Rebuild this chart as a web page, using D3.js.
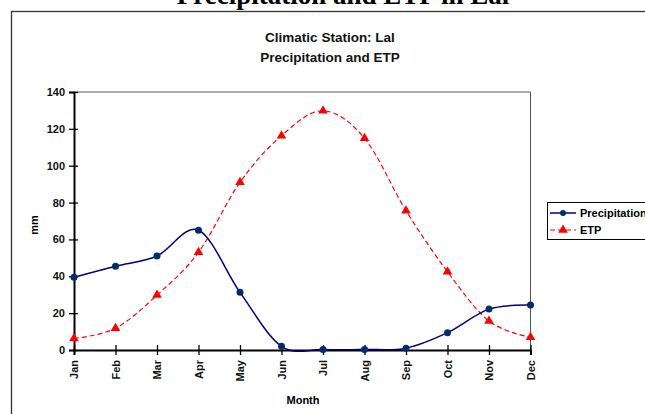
<!DOCTYPE html>
<html><head><meta charset="utf-8">
<script src="https://cdn.jsdelivr.net/npm/d3@7"></script>
<style>body{margin:0;background:#fff;}svg{display:block;}</style>
</head><body>
<script>
const months = ["Jan","Feb","Mar","Apr","May","Jun","Jul","Aug","Sep","Oct","Nov","Dec"];
const precipitation = [39.5, 45.5, 51, 65, 31.3, 2, 0.3, 0.3, 1, 9.4, 22.2, 24.4];
const etp = [6.3, 11.8, 29.8, 53, 91, 116.3, 129.8, 114.9, 75.6, 42.5, 15.7, 6.9];
const yTicks = [0, 20, 40, 60, 80, 100, 120, 140];
const seriesNames = ["Precipitation", "ETP"];

const W = 645, H = 414;
const svg = d3.select("body").append("svg").attr("width", W).attr("height", H);
const font = "Arial, 'Liberation Sans', sans-serif";

// outer title (cut at top)
svg.append("text").attr("x", 343).attr("y", 4).attr("text-anchor", "middle")
  .attr("font-family", "'Liberation Serif', 'Times New Roman', serif")
  .attr("font-weight", "bold").attr("font-size", 27).text("Precipitation and ETP in Lal");

// chart frame
svg.append("rect").attr("x", 11.5).attr("y", 11.5).attr("width", 645).attr("height", 420)
  .attr("fill", "none").attr("stroke", "#333").attr("stroke-width", 1.3);

// chart title
const title = svg.append("text").attr("text-anchor", "middle").attr("font-family", font)
  .attr("font-weight", "bold").attr("font-size", 13.5).attr("fill", "#111");
title.append("tspan").attr("x", 330).attr("y", 42).text("Climatic Station: Lal");
title.append("tspan").attr("x", 330).attr("y", 62).text("Precipitation and ETP");

const x0 = 74, x1 = 530.5, yTop = 92, yBot = 350;
const x = d3.scalePoint().domain(months).range([x0, x1]);
const y = d3.scaleLinear().domain([0, 140]).range([yBot, yTop]);

// plot box top/right
svg.append("path").attr("d", `M${x0},${yTop}H${x1}V${yBot}`).attr("fill", "none")
  .attr("stroke", "#555").attr("stroke-width", 1);

// y axis
const yAxis = svg.append("g").attr("transform", `translate(${x0},0)`)
  .call(d3.axisLeft(y).tickValues(yTicks).tickSize(5).tickPadding(5));
yAxis.select(".domain").attr("stroke", "#000").attr("stroke-width", 2);
yAxis.selectAll(".tick line").attr("x1", 4).attr("x2", -5).attr("stroke-width", 1.3);
yAxis.selectAll(".tick text").attr("font-family", font).attr("font-weight", "bold")
  .attr("font-size", 11).attr("fill", "#111").attr("x", -9);

// x axis
const xAxis = svg.append("g").attr("transform", `translate(0,${yBot})`)
  .call(d3.axisBottom(x).tickSize(5).tickPadding(5));
xAxis.select(".domain").attr("stroke", "#000").attr("stroke-width", 2);
xAxis.selectAll(".tick line").attr("y1", -5).attr("y2", 5).attr("stroke-width", 1.3);
xAxis.selectAll(".tick text").attr("font-family", font).attr("font-weight", "bold")
  .attr("font-size", 11).attr("fill", "#111")
  .attr("transform", "rotate(-90)").attr("text-anchor", "end")
  .attr("x", -10).attr("y", 0).attr("dy", "0.35em");

// axis titles
svg.append("text").attr("transform", "translate(38,225) rotate(-90)").attr("text-anchor", "middle")
  .attr("font-family", font).attr("font-weight", "bold").attr("font-size", 11).text("mm");
svg.append("text").attr("x", 303).attr("y", 404).attr("text-anchor", "middle")
  .attr("font-family", font).attr("font-weight", "bold").attr("font-size", 11).text("Month");

const line = d3.line().x((d, i) => x(months[i])).y(d => y(d)).curve(d3.curveCardinal.tension(0));

// ETP
svg.append("path").datum(etp).attr("d", line).attr("fill", "none")
  .attr("stroke", "#ff0000").attr("stroke-width", 1.2).attr("stroke-dasharray", "5,3");
const tri = d3.symbol().type(d3.symbolTriangle).size(40);
svg.selectAll(".etp").data(etp).enter().append("path")
  .attr("d", tri).attr("fill", "#ff0000")
  .attr("transform", (d, i) => `translate(${x(months[i])},${y(d)})`);

// Precipitation
svg.append("path").datum(precipitation).attr("d", line).attr("fill", "none")
  .attr("stroke", "#000080").attr("stroke-width", 1.5);
svg.selectAll(".pr").data(precipitation).enter().append("circle")
  .attr("cx", (d, i) => x(months[i])).attr("cy", d => y(d)).attr("r", 3.5)
  .attr("fill", "#002d6b");

// legend
const lg = svg.append("g");
lg.append("rect").attr("x", 547.5).attr("y", 202.5).attr("width", 120).attr("height", 37)
  .attr("fill", "#fff").attr("stroke", "#000").attr("stroke-width", 1);
lg.append("line").attr("x1", 550).attr("x2", 576).attr("y1", 213).attr("y2", 213)
  .attr("stroke", "#000080").attr("stroke-width", 1.5);
lg.append("circle").attr("cx", 563).attr("cy", 213).attr("r", 3).attr("fill", "#002d6b");
lg.append("line").attr("x1", 550).attr("x2", 576).attr("y1", 230).attr("y2", 230)
  .attr("stroke", "#ff0000").attr("stroke-width", 1.2).attr("stroke-dasharray", "5,3");
lg.append("path").attr("d", tri).attr("fill", "#ff0000").attr("transform", "translate(563,230)");
lg.append("text").attr("x", 580).attr("y", 217).attr("font-family", font).attr("font-weight", "bold")
  .attr("font-size", 11).text(seriesNames[0]);
lg.append("text").attr("x", 580).attr("y", 234).attr("font-family", font).attr("font-weight", "bold")
  .attr("font-size", 11).text(seriesNames[1]);
</script>
</body></html>
